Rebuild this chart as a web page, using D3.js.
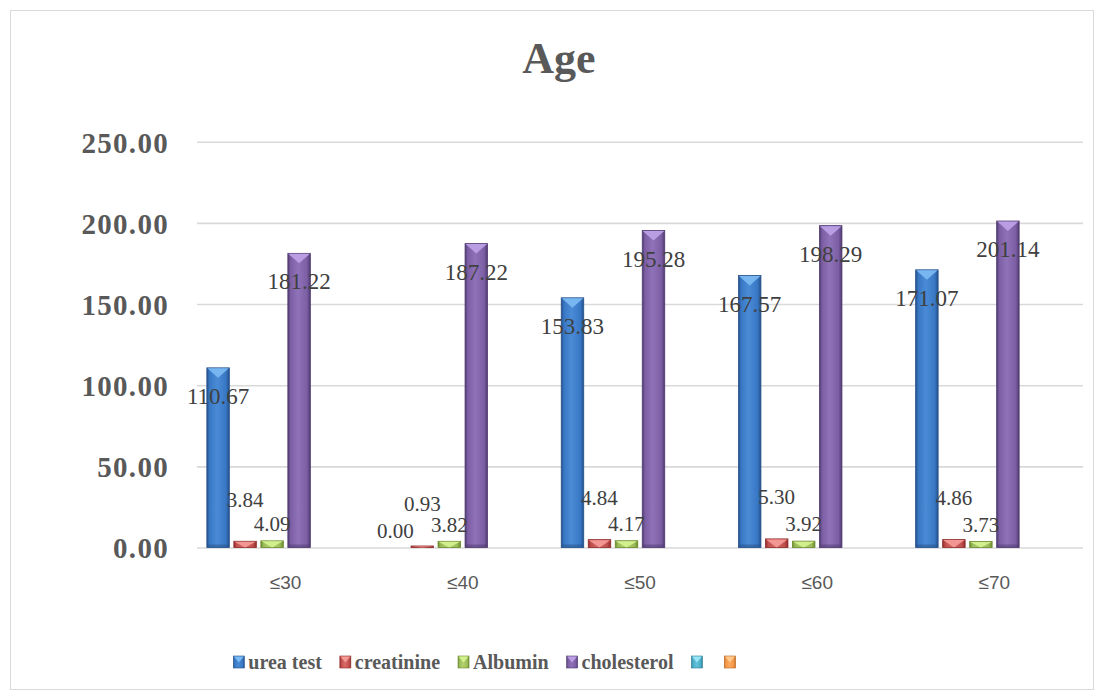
<!DOCTYPE html>
<html>
<head>
<meta charset="utf-8">
<script src="https://cdn.jsdelivr.net/npm/d3@7"></script>
<style>
  html, body { margin: 0; padding: 0; background: #ffffff; }
  svg { display: block; }
</style>
</head>
<body>
<svg id="chart" width="1104" height="692"></svg>
<script>
// Age groups and the measured means per group
const categories = ["≤30", "≤40", "≤50", "≤60", "≤70"];
const seriesNames = ["urea test", "creatinine", "Albumin", "cholesterol", "", ""];
const ureaTest = [110.67, 0.00, 153.83, 167.57, 171.07];
const creatinine = [3.84, 0.93, 4.84, 5.30, 4.86];
const albumin = [4.09, 3.82, 4.17, 3.92, 3.73];
const cholesterol = [181.22, 187.22, 195.28, 198.29, 201.14];
const emptyA = [null, null, null, null, null];
const emptyB = [null, null, null, null, null];
const yTicks = [0, 50, 100, 150, 200, 250];

const seriesValues = [ureaTest, creatinine, albumin, cholesterol, emptyA, emptyB];

// colour sets: [edge, body, highlight, top facet]
const palette = [
  ["#25508a", "#3877c4", "#4a8bd6", "#7ab8f2"],
  ["#8e2a28", "#c0504d", "#d96a66", "#f39a96"],
  ["#6a8a2c", "#9bbb59", "#b3d46e", "#d4f08f"],
  ["#4f3a70", "#7b5ea3", "#8f72b8", "#bca0e6"],
  ["#2a7d94", "#4bacc6", "#63c3dc", "#98e3f4"],
  ["#b8631c", "#f79646", "#faa960", "#ffc98e"]
];

const svg = d3.select("#chart");

// chart frame
svg.append("rect")
  .attr("x", 10.5).attr("y", 10.5)
  .attr("width", 1083).attr("height", 679)
  .attr("fill", "#ffffff")
  .attr("stroke", "#d9d9d9").attr("stroke-width", 1);

// gradients for the bevelled columns
const defs = svg.append("defs");
palette.forEach((c, i) => {
  const g = defs.append("linearGradient")
    .attr("id", "grad" + i)
    .attr("x1", "0%").attr("x2", "100%").attr("y1", "0%").attr("y2", "0%");
  [[0, c[0]], [0.12, c[1]], [0.45, c[2]], [0.85, c[1]], [1, c[0]]].forEach(s => {
    g.append("stop").attr("offset", (s[0] * 100) + "%").attr("stop-color", s[1]);
  });
});

const plot = { left: 197, right: 1083, top: 141.7, bottom: 547.5 };

const y = d3.scaleLinear().domain([0, 250]).range([plot.bottom, plot.top]);
const x = d3.scaleBand().domain(categories).range([plot.left, plot.right]).padding(0);
const xSub = d3.scaleBand()
  .domain(d3.range(seriesNames.length))
  .range([0, x.bandwidth()])
  .paddingInner(0)
  .paddingOuter(0.281);
const barW = xSub.bandwidth() * 0.833;
const barOff = (xSub.bandwidth() - barW) / 2;

// title
svg.append("text")
  .attr("x", 559).attr("y", 73)
  .attr("text-anchor", "middle")
  .attr("font-family", "'Liberation Serif', serif")
  .attr("font-weight", "bold")
  .attr("font-size", 44)
  .attr("fill", "#595959")
  .text("Age");

// gridlines and value axis
const yAxis = d3.axisLeft(y)
  .tickValues(yTicks)
  .tickSize(-(plot.right - plot.left))
  .tickPadding(28)
  .tickFormat(d3.format(".2f"));

const gAxis = svg.append("g")
  .attr("transform", `translate(${plot.left},0)`)
  .call(yAxis);
gAxis.select(".domain").remove();
gAxis.selectAll(".tick line")
  .attr("stroke", "#d9d9d9")
  .attr("stroke-width", 1.6);
gAxis.selectAll(".tick text")
  .attr("font-family", "'Liberation Serif', serif")
  .attr("font-weight", "bold")
  .attr("font-size", 29)
  .attr("letter-spacing", "1.3px")
  .attr("fill", "#595959")
  .attr("dy", "0.36em");

// category axis
const xAxis = d3.axisBottom(x).tickSize(0).tickPadding(28);
const gX = svg.append("g")
  .attr("transform", `translate(0,${plot.bottom})`)
  .call(xAxis);
gX.select(".domain").remove();
gX.selectAll(".tick text")
  .attr("font-family", "'Liberation Sans', Arial, sans-serif")
  .attr("font-size", 19)
  .attr("fill", "#595959");

// columns
const barsLayer = svg.append("g");
const labelsLayer = svg.append("g");

seriesValues.forEach((vals, si) => {
  const c = palette[si];
  vals.forEach((v, ci) => {
    if (v === null) return;
    const x0 = x(categories[ci]) + xSub(si) + barOff;
    const yTop = y(v);
    const h = y(0) - yTop;
    const g = barsLayer.append("g");
    if (h > 0.01) {
      g.append("rect")
        .attr("x", x0).attr("y", yTop)
        .attr("width", barW).attr("height", h)
        .attr("fill", `url(#grad${si})`)
        .attr("stroke", c[0]).attr("stroke-width", 0.8);
      const tri = Math.min(10, h);
      g.append("path")
        .attr("d", `M${x0 + 0.5},${yTop + 0.5} L${x0 + barW - 0.5},${yTop + 0.5} L${x0 + barW / 2},${yTop + tri} Z`)
        .attr("fill", c[3])
        .attr("opacity", 0.95);
      if (h > 14) {
        g.append("rect")
          .attr("x", x0 + 0.5).attr("y", y(0) - 3)
          .attr("width", barW - 1).attr("height", 3)
          .attr("fill", c[0]).attr("opacity", 0.5);
      }
    }
    // data label: inside the top of tall columns; above short ones,
    // with neighbouring short-column labels on alternating rows
    let labelY;
    if (h > 60) {
      labelY = yTop + 28;
    } else {
      labelY = yTop - (si % 2 === 1 ? 42 : 17);
    }
    labelsLayer.append("text")
      .attr("x", x0 + barW / 2)
      .attr("y", labelY)
      .attr("dy", "0.35em")
      .attr("text-anchor", "middle")
      .attr("font-family", "'Liberation Serif', serif")
      .attr("font-size", h > 60 ? 23 : 21)
      .attr("fill", "#404040")
      .text(d3.format(".2f")(v));
  });
});

// legend
const legend = svg.append("g");
const legendY = 662;
let cursor = 0;
seriesNames.forEach((name, i) => {
  const it = legend.append("g");
  it.append("rect")
    .attr("x", cursor).attr("y", legendY - 6)
    .attr("width", 11).attr("height", 12)
    .attr("fill", `url(#grad${i})`)
    .attr("stroke", palette[i][0]).attr("stroke-width", 0.6);
  it.append("path")
    .attr("d", `M${cursor + 0.5},${legendY - 5.5} L${cursor + 10.5},${legendY - 5.5} L${cursor + 5.5},${legendY + 0.5} Z`)
    .attr("fill", palette[i][3]);
  const t = it.append("text")
    .attr("x", cursor + 15).attr("y", legendY)
    .attr("dy", "0.34em")
    .attr("font-family", "'Liberation Serif', serif")
    .attr("font-weight", "bold")
    .attr("font-size", 20)
    .attr("fill", "#595959")
    .text(name);
  const tw = name ? t.node().getComputedTextLength() : 0;
  cursor += 15 + tw + (i < seriesNames.length - 1 ? 18 : 0);
});
const legendWidth = cursor - 4;
legend.attr("transform", `translate(${484.4 - legendWidth / 2},0)`);
</script>
</body>
</html>
